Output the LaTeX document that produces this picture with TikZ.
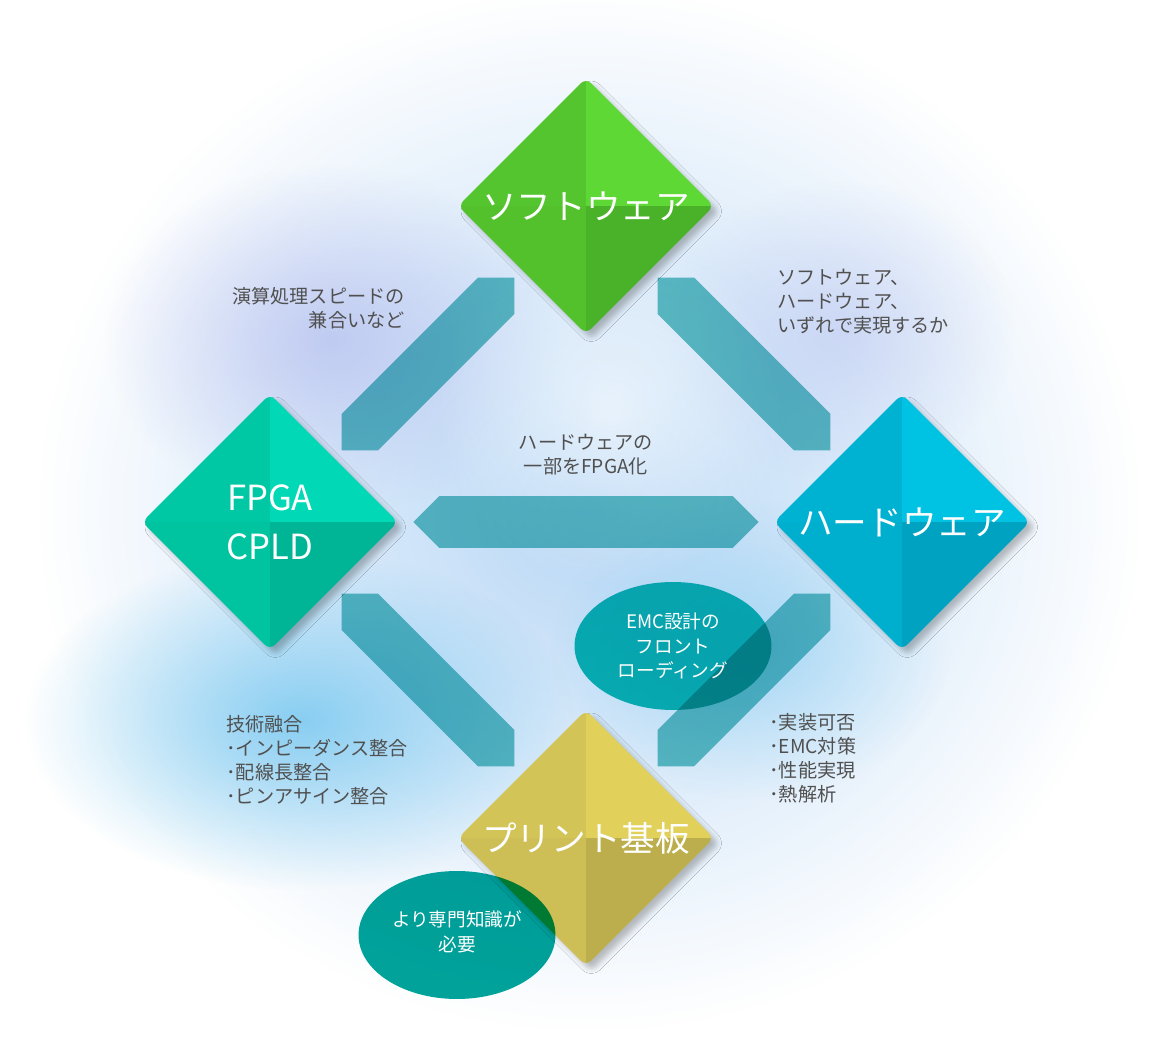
\documentclass[tikz,border=0pt]{standalone}
\usepackage{fontspec}
\setmainfont{Noto Sans CJK JP}
\usepackage{xcolor}
\usetikzlibrary{calc,positioning,shapes.geometric,shadows.blur,fadings}

\definecolor{softtl}{RGB}{85,197,47}
\definecolor{softtr}{RGB}{93,216,52}
\definecolor{softbl}{RGB}{82,193,44}
\definecolor{softbr}{RGB}{74,178,40}
\definecolor{fpgatl}{RGB}{0,200,165}
\definecolor{fpgatr}{RGB}{0,216,182}
\definecolor{fpgabl}{RGB}{0,195,160}
\definecolor{fpgabr}{RGB}{0,180,150}
\definecolor{hardtl}{RGB}{0,178,210}
\definecolor{hardtr}{RGB}{0,194,226}
\definecolor{hardbl}{RGB}{0,174,206}
\definecolor{hardbr}{RGB}{0,162,194}
\definecolor{pcbtl}{RGB}{210,196,86}
\definecolor{pcbtr}{RGB}{225,208,90}
\definecolor{pcbbl}{RGB}{205,190,85}
\definecolor{pcbbr}{RGB}{188,174,76}
\definecolor{bandteal}{RGB}{100,196,196}
\definecolor{emcteal}{RGB}{10,192,182}
\definecolor{needteal}{RGB}{0,164,155}
\definecolor{notegray}{RGB}{80,80,80}
\definecolor{glowblue}{RGB}{185,216,246}
\definecolor{skyblue}{RGB}{120,200,240}
\definecolor{lavender}{RGB}{178,188,238}

\tikzfading[name=glow, inner color=transparent!0, outer color=transparent!100]

\tikzset{
  gem/.style={diamond, minimum width=5.1cm, minimum height=5.1cm, inner sep=0pt},
  gemtext/.style={text=white, align=center, inner sep=0pt, font=\fontsize{19.7}{27.8}\selectfont},
  note/.style={text=notegray, inner sep=0pt, font=\fontsize{10.9}{13.6}\selectfont},
  band/.style={fill=bandteal},
  bubble/.style={ellipse, minimum width=3.94cm, minimum height=2.56cm, inner sep=0pt},
  bubbletext/.style={text=white, align=center, inner sep=0pt, font=\fontsize{10.6}{13.8}\selectfont}
}

% one diamond with four shaded quarters
\newcommand\gem[2]{%
  \node[gem] (#1) at (#2) {};
  \path[blur shadow={shadow xshift=3pt, shadow yshift=-3pt, shadow blur radius=3pt, shadow opacity=25}, rounded corners=4pt]
    (#1.north) -- (#1.east) -- (#1.south) -- (#1.west) -- cycle;
  \begin{scope}
    \clip[rounded corners=4pt] (#1.north) -- (#1.east) -- (#1.south) -- (#1.west) -- cycle;
    \fill[#1tl] (#1.center) rectangle (#1.west |- #1.north);
    \fill[#1tr] (#1.center) rectangle (#1.east |- #1.north);
    \fill[#1bl] (#1.center) rectangle (#1.west |- #1.south);
    \fill[#1br] (#1.center) rectangle (#1.east |- #1.south);
  \end{scope}}

\begin{document}
\begin{tikzpicture}[x=0.02cm, y=-0.02cm]
\useasboundingbox (0,0) rectangle (1164,1047);
\fill[white] (0,0) rectangle (1164,1047);

% background glow
\fill[glowblue, path fading=glow] (590,510) ellipse [x radius=11cm, y radius=10.4cm];
\fill[lavender, path fading=glow, opacity=.7] (330,340) ellipse [x radius=4.5cm, y radius=3.5cm];
\fill[skyblue, path fading=glow, opacity=.85] (300,720) ellipse [x radius=5.5cm, y radius=3.4cm];
\fill[skyblue, path fading=glow, opacity=.5] (750,650) ellipse [x radius=4cm, y radius=3cm];
\fill[lavender, path fading=glow, opacity=.45] (840,330) ellipse [x radius=3.5cm, y radius=3cm];
\fill[white, path fading=glow, opacity=.6] (610,410) ellipse [x radius=3.5cm, y radius=3.5cm];

% diamonds
\gem{soft}{586,206}
\gem{fpga}{270,522}
\gem{hard}{902,522}
\gem{pcb}{586,838}

\node[gemtext] (soft-t) at (soft) {ソフトウェア};
\node[gemtext] (fpga-t) at (fpga) {FPGA\\CPLD};
\node[gemtext] (hard-t) at (hard) {ハードウェア};
\node[gemtext] (pcb-t) at (pcb) {プリント基板};

% connecting bands
\begin{scope}[blend mode=multiply]
\foreach \s/\t in {fpga/soft, soft/hard, fpga/hard, fpga/pcb, pcb/hard} {
  \coordinate (\s-\t-a) at ($(\s)!0.227!(\t)$);
  \coordinate (\s-\t-b) at ($(\s)!0.773!(\t)$);
  \fill[band] (\s-\t-a) -- ($(\s-\t-a)!0.73cm!45:(\s-\t-b)$) -- ($(\s-\t-b)!0.73cm!-45:(\s-\t-a)$)
    -- (\s-\t-b) -- ($(\s-\t-b)!0.73cm!45:(\s-\t-a)$) -- ($(\s-\t-a)!0.73cm!-45:(\s-\t-b)$) -- cycle;
}
\node[bubble, fill=emcteal] (emc) at (673,646) {};
\node[bubble, fill=needteal] (need) at (457,935) {};
\end{scope}

\node[bubbletext] (emc-t) at (emc) {EMC設計の\\フロント\\ローディング};
\node[bubbletext] (need-t) at ($(need)+(0,-3)$) {より専門知識が\\必要};

% notes
\node[note, anchor=east, align=right] (speed) at (405,308) {演算処理スピードの\\兼合いなど};
\node[note, anchor=west, align=left] (which) at (777,302) {ソフトウェア、\\ハードウェア、\\いずれで実現するか};
\node[note, align=center] (part) at (586,455) {ハードウェアの\\一部をFPGA化};
\node[note, anchor=west, align=left] (fusion) at (226,760) {技術融合\\･インピーダンス整合\\･配線長整合\\･ピンアサイン整合};
\node[note, anchor=west, align=left] (mount) at (769,758) {･実装可否\\･EMC対策\\･性能実現\\･熱解析};
\end{tikzpicture}
\end{document}
